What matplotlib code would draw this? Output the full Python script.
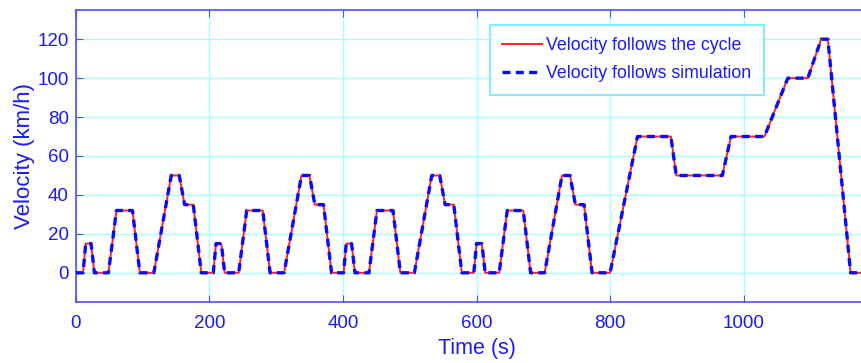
import matplotlib
matplotlib.use("Agg")
import matplotlib.pyplot as plt
import numpy as np

# ECE-15 urban cycle breakpoints (time within segment, km/h)
ece_t = [0, 11, 15, 23, 28, 49, 61, 85, 96, 117, 143, 155, 163, 176, 188, 195]
ece_v = [0, 0, 15, 15, 0, 0, 32, 32, 0, 0, 50, 50, 35, 35, 0, 0]
ece_repeats = 4
ece_period = 195
# EUDC extra-urban breakpoints (time within segment, km/h)
eudc_t = [0, 20, 61, 111, 119, 188, 201, 251, 286, 316, 336, 346, 380, 400]
eudc_v = [0, 0, 70, 70, 50, 50, 70, 70, 100, 100, 120, 120, 0, 0]

x_ticks = [0, 200, 400, 600, 800, 1000]
y_ticks = [0, 20, 40, 60, 80, 100, 120]

cycle_t, cycle_v = [], []
for k in range(ece_repeats):
    cycle_t += [t + k * ece_period for t in ece_t]
    cycle_v += list(ece_v)
cycle_t += [t + ece_repeats * ece_period for t in eudc_t]
cycle_v += list(eudc_v)
sim_t, sim_v = list(cycle_t), list(cycle_v)

blue = '#1a1aff'
spine = '#4d4dff'
grid_c = '#a6ffff'
plt.rcParams['font.family'] = ['Liberation Sans', 'DejaVu Sans']

fig = plt.figure(figsize=(8.61, 3.63), dpi=100)
W, H = 861, 363
left_px, top_px, bot_px = 75.7, 10, 302
px_per_s = 0.668
xmax = 1200
ax = fig.add_axes([left_px / W, 1 - bot_px / H, xmax * px_per_s / W, (bot_px - top_px) / H])

l1, = ax.plot(cycle_t, cycle_v, color='#ff2020', lw=1.4, label='Velocity follows the cycle', zorder=3)
l2, = ax.plot(sim_t, sim_v, color='#0a0aff', lw=2.4, dashes=(2.4, 1.6),
              label='Velocity follows simulation', zorder=4)

ax.set_xlim(0, xmax)
ax.set_ylim(-15, 135)
ax.set_xticks(x_ticks)
ax.set_yticks(y_ticks)
ax.grid(True, color=grid_c, lw=1.0)
ax.set_axisbelow(True)
for s in ax.spines.values():
    s.set_color(spine)
    s.set_linewidth(1.2)
ax.tick_params(direction='in', length=5, color=spine, labelcolor=blue, labelsize=13.5,
               top=True, right=True)
ax.tick_params(axis='x', pad=9)
ax.tick_params(axis='y', pad=5)
ax.set_xlabel('Time (s)', color=blue, fontsize=15.5, labelpad=5)
ax.set_ylabel('Velocity (km/h)', color=blue, fontsize=16, labelpad=2)

leg = fig.legend(handles=[l1, l2], loc='upper left',
                 bbox_to_anchor=(490 / W, 1 - 25 / H), fontsize=12.8,
                 frameon=True, fancybox=False, edgecolor='#40e8ff',
                 handlelength=2.2, handletextpad=0.25, borderpad=0.7, labelspacing=0.62,
                 borderaxespad=0)
leg.get_frame().set_linewidth(1.2)
for t in leg.get_texts():
    t.set_color(blue)

fig.savefig('out.png', dpi=100)
